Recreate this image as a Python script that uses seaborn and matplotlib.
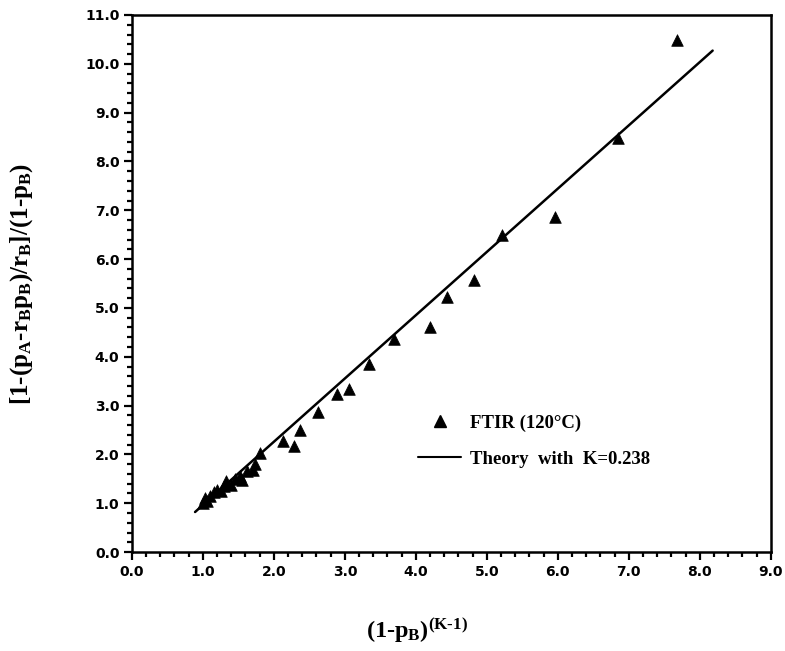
import numpy as np
import pandas as pd
import matplotlib
matplotlib.use('Agg')
import matplotlib.pyplot as plt
from matplotlib.lines import Line2D
from matplotlib.ticker import MultipleLocator, FormatStrFormatter
import seaborn as sns

# FTIR data at 120 C
ftir_x = [1.00, 1.03, 1.06, 1.10, 1.15, 1.20, 1.25, 1.30, 1.33, 1.40, 1.45,
          1.52, 1.55, 1.62, 1.70, 1.73, 1.80, 2.13, 2.29, 2.37, 2.62, 2.89,
          3.06, 3.34, 3.69, 4.20, 4.44, 4.82, 5.22, 5.96, 6.84, 7.68]
ftir_y = [1.00, 1.10, 1.05, 1.15, 1.22, 1.28, 1.25, 1.35, 1.45, 1.38, 1.50,
          1.55, 1.48, 1.65, 1.68, 1.80, 2.02, 2.28, 2.18, 2.50, 2.87, 3.23,
          3.33, 3.85, 4.36, 4.60, 5.22, 5.57, 6.50, 6.86, 8.48, 10.49]

# theory line K=0.238 (end points)
theory_x = [0.89, 8.18]
theory_y = [0.82, 10.27]

df = pd.DataFrame({'x': ftir_x, 'y': ftir_y})
th = pd.DataFrame({'x': theory_x, 'y': theory_y})

sns.set_style('ticks')
plt.rcParams['mathtext.fontset'] = 'custom'
plt.rcParams['mathtext.rm'] = 'Liberation Serif:bold'
plt.rcParams['mathtext.bf'] = 'Liberation Serif:bold'
plt.rcParams['mathtext.it'] = 'Liberation Serif:bold'
plt.rcParams['text.color'] = 'black'
plt.rcParams['axes.labelcolor'] = 'black'

fig = plt.figure(figsize=(7.85, 6.51), dpi=100)
ax = fig.add_axes([0.168, 0.152, 0.814, 0.825])

sns.lineplot(data=th, x='x', y='y', color='black', linewidth=1.8, ax=ax)
sns.scatterplot(data=df, x='x', y='y', marker='^', s=70, color='black',
                edgecolor='black', linewidth=0.5, ax=ax, zorder=3)

ax.set_xlim(0, 9)
ax.set_ylim(0, 11)
ax.xaxis.set_major_locator(MultipleLocator(1.0))
ax.xaxis.set_minor_locator(MultipleLocator(0.2))
ax.yaxis.set_major_locator(MultipleLocator(1.0))
ax.yaxis.set_minor_locator(MultipleLocator(0.2))
ax.xaxis.set_major_formatter(FormatStrFormatter('%.1f'))
ax.yaxis.set_major_formatter(FormatStrFormatter('%.1f'))

for sp in ax.spines.values():
    sp.set_linewidth(1.8)
    sp.set_color('black')
    sp.set_visible(True)
ax.tick_params(which='major', direction='out', length=6, width=1.6, labelsize=10, pad=3,
               color='black', labelcolor='black')
ax.tick_params(which='minor', direction='out', length=3.5, width=1.6, color='black')
for lab in ax.get_xticklabels() + ax.get_yticklabels():
    lab.set_fontweight('bold')
    lab.set_family('DejaVu Sans')

ax.set_xlabel('(1-p$_{\\mathrm{B}}$)$^{\\mathrm{(K\u20101)}}$', fontsize=17.5,
              family='Liberation Serif', fontweight='bold')
ax.xaxis.set_label_coords(0.446, -0.12)
ax.set_ylabel(r'[1-(p$_{\mathrm{A}}$-r$_{\mathrm{B}}$p$_{\mathrm{B}}$)/r$_{\mathrm{B}}$]/(1-p$_{\mathrm{B}}$)',
              fontsize=18, family='Liberation Serif', fontweight='bold')
ax.yaxis.set_label_coords(-0.152, 0.5)

handles = [Line2D([], [], marker='^', color='black', linestyle='none', markersize=8),
           Line2D([], [], color='black', linewidth=1.5)]
labels = ['FTIR (120°C)', 'Theory  with  K=0.238']
ax.legend(handles, labels, loc='upper left', bbox_to_anchor=(0.422, 0.287),
          frameon=False, handlelength=2.25, handletextpad=0.5, labelspacing=1.0,
          prop={'family': 'Liberation Serif', 'weight': 'bold', 'size': 13.5})

fig.savefig('out.png', dpi=100)
